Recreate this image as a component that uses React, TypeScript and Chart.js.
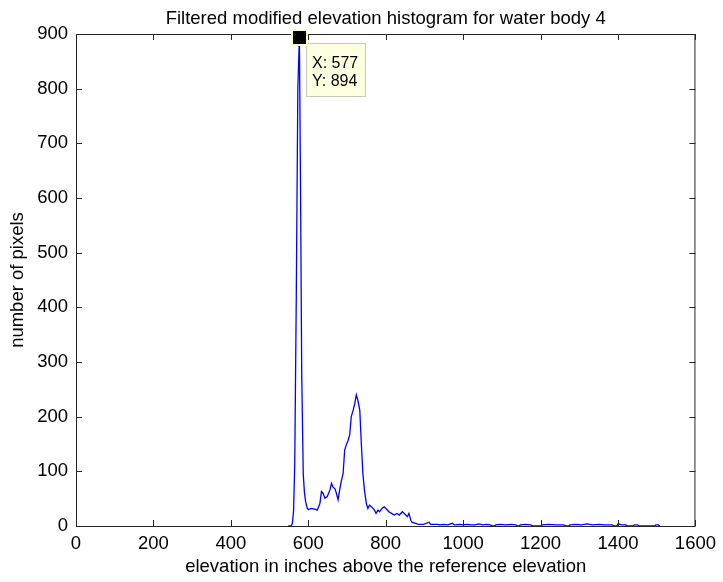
import React, { useEffect, useRef } from "react";
import { Chart, registerables } from "chart.js";

Chart.register(...registerables);

const TITLE = "Filtered modified elevation histogram for water body 4";
const X_LABEL = "elevation in inches above the reference elevation";
const Y_LABEL = "number of pixels";

const X_TICKS = [0, 200, 400, 600, 800, 1000, 1200, 1400, 1600];
const Y_TICKS = [0, 100, 200, 300, 400, 500, 600, 700, 800, 900];

// main spike
const peakElevation = [548, 556, 559, 562, 565, 569, 573, 577, 580, 583, 587, 590, 593, 597, 600];
const peakCount = [0, 0, 5, 28, 112, 420, 800, 894, 614, 280, 95, 62, 45, 33, 30];

// secondary bump
const bumpElevation = [608, 617, 623, 630, 634, 638, 643, 649, 656, 660, 664, 669, 673, 677, 681, 685, 690, 694, 698, 703, 707, 711, 716, 720, 724, 728, 733, 737, 741, 745, 750, 754, 758, 764, 771, 775, 780, 784, 790, 796, 802, 808, 815, 822, 829, 835, 843, 849, 856, 860, 865, 868, 877, 885, 898, 912, 916, 933];
const bumpCount = [32, 31, 29, 41, 63, 60, 51, 54, 66, 78, 71, 68, 59, 48, 66, 81, 96, 139, 148, 157, 167, 200, 212, 224, 240, 230, 212, 151, 96, 66, 41, 32, 38, 35, 29, 23, 29, 26, 32, 35, 31, 26, 23, 20, 23, 20, 26, 22, 17, 23, 10, 7, 5, 3, 3, 7, 3, 3];

// long sparse tail
const tailElevation = [940, 950, 960, 972, 978, 990, 1000, 1010, 1020, 1030, 1041, 1050, 1060, 1070, 1076, 1080, 1084, 1095, 1110, 1125, 1136, 1140, 1144, 1148, 1160, 1175, 1180, 1200, 1205, 1220, 1240, 1260, 1266, 1272, 1276, 1290, 1305, 1320, 1335, 1350, 1365, 1385, 1390, 1397, 1400, 1410, 1420, 1425, 1438, 1442, 1450, 1455, 1494, 1498, 1504, 1508];
const tailCount = [2, 3, 2, 5, 2, 3, 2, 3, 2, 2, 4, 2, 3, 2, 0, 0, 2, 3, 2, 3, 2, 0, 0, 2, 3, 2, 0, 0, 2, 3, 2, 2, 0, 0, 2, 3, 2, 4, 2, 3, 2, 2, 0, 0, 4, 2, 2, 0, 0, 2, 2, 0, 0, 2, 2, 0];

const TIP_X = 577;
const TIP_Y = 894;

const FONT = "Arial, 'Liberation Sans', sans-serif";
const FS = 18.5;

const frame = {
  id: "matlabFrame",
  afterDatasetsDraw(chart: any) {
    const { ctx, chartArea: a, scales } = chart;
    const xs = scales.x;
    const ys = scales.y;
    ctx.save();
    ctx.strokeStyle = "#262626";
    ctx.lineWidth = 1;
    ctx.beginPath();
    ctx.rect(a.left + 0.5, a.top + 0.5, a.right - a.left - 1, a.bottom - a.top);
    ctx.stroke();
    const tl = 6;
    ctx.beginPath();
    X_TICKS.forEach((v) => {
      const px = Math.round(xs.getPixelForValue(v)) + 0.5;
      ctx.moveTo(px, a.bottom);
      ctx.lineTo(px, a.bottom - tl);
      ctx.moveTo(px, a.top);
      ctx.lineTo(px, a.top + tl);
    });
    Y_TICKS.forEach((v) => {
      const py = Math.round(ys.getPixelForValue(v)) + 0.5;
      ctx.moveTo(a.left, py);
      ctx.lineTo(a.left + tl, py);
      ctx.moveTo(a.right, py);
      ctx.lineTo(a.right - tl, py);
    });
    ctx.stroke();

    // texts
    ctx.fillStyle = "#000";
    ctx.font = `${FS}px ${FONT}`;
    ctx.textAlign = "center";
    ctx.textBaseline = "alphabetic";
    const cx = (a.left + a.right) / 2;
    ctx.fillText(TITLE, cx, 24);
    ctx.textBaseline = "middle";
    ctx.fillText(X_LABEL, cx, 567);
    ctx.save();
    ctx.translate(18, (a.top + a.bottom) / 2);
    ctx.rotate(-Math.PI / 2);
    ctx.fillText(Y_LABEL, 0, 0);
    ctx.restore();
    ctx.restore();
  },
  afterDraw(chart: any) {
    const { ctx, scales } = chart;
    const mx = Math.round(scales.x.getPixelForValue(TIP_X));
    const my = Math.round(scales.y.getPixelForValue(TIP_Y));
    ctx.save();
    const bx = mx + 7;
    const by = my + 6;
    ctx.fillStyle = "#ffffe1";
    ctx.fillRect(bx, by, 60, 54);
    ctx.strokeStyle = "#c9c9b8";
    ctx.lineWidth = 1;
    ctx.strokeRect(bx + 0.5, by + 0.5, 59, 53);
    ctx.fillStyle = "#000";
    ctx.font = `16px ${FONT}`;
    ctx.textAlign = "left";
    ctx.textBaseline = "alphabetic";
    ctx.fillText(`X: ${TIP_X}`, bx + 6, by + 25);
    ctx.fillText(`Y: ${TIP_Y}`, bx + 6, by + 43);
    ctx.fillStyle = "#ffffc8";
    ctx.fillRect(mx - 8, my - 8, 17, 17);
    ctx.fillStyle = "#000";
    ctx.fillRect(mx - 6, my - 6, 13, 13);
    ctx.restore();
  },
};

export default function App() {
  const ref = useRef<HTMLCanvasElement | null>(null);
  useEffect(() => {
    const canvas = ref.current;
    if (!canvas) return;
    const elev = [...peakElevation, ...bumpElevation, ...tailElevation];
    const cnt = [...peakCount, ...bumpCount, ...tailCount];
    const data = elev.map((x, i) => ({ x, y: cnt[i] }));
    const chart = new Chart(canvas, {
      type: "line",
      data: {
        datasets: [
          {
            data,
            borderColor: "#0000ff",
            borderWidth: 1.3,
            pointRadius: 0,
            tension: 0,
            fill: false,
          },
        ],
      },
      options: {
        animation: false,
        responsive: false,
        devicePixelRatio: 1,
        layout: { padding: { top: 34, right: 23, left: 0, bottom: 0 } },
        plugins: {
          legend: { display: false },
          title: { display: false },
          tooltip: { enabled: false },
        },
        scales: {
          x: {
            type: "linear",
            min: 0,
            max: 1600,
            afterFit: (s: any) => {
              s.height = 56;
            },
            ticks: {
              stepSize: 200,
              color: "#000",
              padding: 7,
              maxRotation: 0,
              font: { size: FS, family: FONT },
              callback: (v: any) => String(v),
            },
            grid: { display: false, drawTicks: false },
            border: { display: false },
          },
          y: {
            type: "linear",
            min: 0,
            max: 900,
            afterFit: (s: any) => {
              s.width = 76;
            },
            ticks: {
              stepSize: 100,
              color: "#000",
              padding: 8,
              font: { size: FS, family: FONT },
              callback: (v: any) => String(v),
            },
            grid: { display: false, drawTicks: false },
            border: { display: false },
          },
        },
      },
      plugins: [frame],
    });
    return () => chart.destroy();
  }, []);
  return (
    <div style={{ position: "absolute", left: 0, top: 0, width: 723, height: 582, background: "#fff" }}>
      <canvas ref={ref} width={723} height={582} style={{ display: "block" }} />
    </div>
  );
}
